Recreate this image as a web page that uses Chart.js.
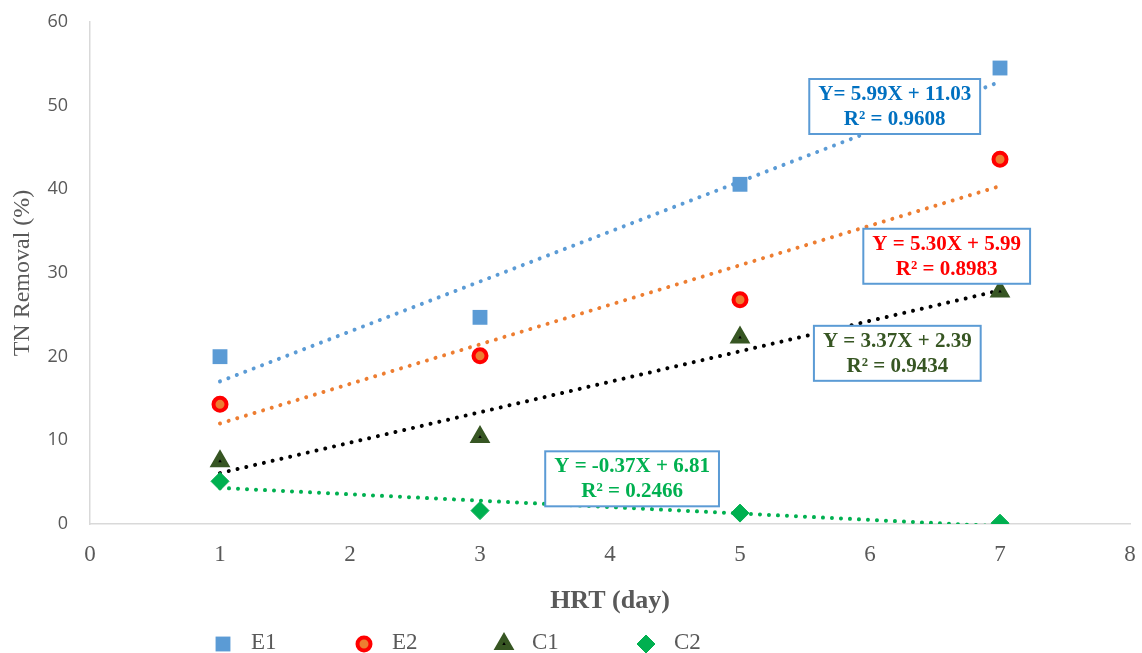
<!DOCTYPE html>
<html>
<head>
<meta charset="utf-8">
<title>TN Removal vs HRT</title>
<script src="https://cdn.jsdelivr.net/npm/chart.js@4.4.1/dist/chart.umd.min.js"></script>
<style>
    html, body { margin: 0; padding: 0; background: #ffffff; }
    .chart-wrap { position: relative; width: 1142px; height: 653px; }
</style>
</head>
<body>
<div class="chart-wrap"><canvas id="tnChart"></canvas></div>
<script>
// HRT (day) on the x axis
const hrtDays = [1, 3, 5, 7];

// TN removal (%) per reactor
const e1Removal = [20.0, 24.7, 40.6, 54.5];
const e2Removal = [14.3, 20.1, 26.8, 43.6];
const c1Removal = [7.5, 10.4, 22.3, 27.8];
const c2Removal = [5.1, 1.6, 1.3, 0.1];

const seriesNames = ['E1', 'E2', 'C1', 'C2'];

// trendline equation labels as printed in the figure
const eqTexts = ['Y= 5.99X + 11.03', 'Y = 5.30X + 5.99', 'Y = 3.37X + 2.39', 'Y = -0.37X + 6.81'];
const r2Texts = ['R\u00b2 = 0.9608', 'R\u00b2 = 0.8983', 'R\u00b2 = 0.9434', 'R\u00b2 = 0.2466'];

const xTicks = [0, 1, 2, 3, 4, 5, 6, 7, 8];
const yTicks = [0, 10, 20, 30, 40, 50, 60];

const GREY = '#595959';
const SERIF = '"Liberation Serif", "Times New Roman", serif';

// least squares line, like the spreadsheet trendline
function linearFit(xs, ys) {
    const n = xs.length;
    const mx = xs.reduce((a, b) => a + b, 0) / n;
    const my = ys.reduce((a, b) => a + b, 0) / n;
    let sxy = 0, sxx = 0;
    for (let i = 0; i < n; i++) {
        sxy += (xs[i] - mx) * (ys[i] - my);
        sxx += (xs[i] - mx) * (xs[i] - mx);
    }
    const slope = sxy / sxx;
    return { slope: slope, intercept: my - slope * mx };
}

function toPoints(ys) {
    return hrtDays.map((x, i) => ({ x: x, y: ys[i] }));
}

function trendPoints(ys) {
    const fit = linearFit(hrtDays, ys);
    const first = hrtDays[0];
    const last = hrtDays[hrtDays.length - 1];
    return [
        { x: first, y: fit.slope * first + fit.intercept },
        { x: last, y: fit.slope * last + fit.intercept }
    ];
}

const markerStyles = [
    { pointStyle: 'rect', radius: 10.5, bg: '#5B9BD5', border: '#5B9BD5', bw: 0 },
    { pointStyle: 'circle', radius: 6.5, bg: '#ED7D31', border: '#FF0000', bw: 4 },
    { pointStyle: 'triangle', radius: 7, bg: '#000000', border: '#375623', bw: 5 },
    { pointStyle: 'rectRot', radius: 9, bg: '#00B050', border: '#00B050', bw: 1 }
];
const trendColors = ['#5B9BD5', '#ED7D31', '#000000', '#00B050'];
const labelColors = ['#0070C0', '#FF0000', '#375623', '#00B050'];

const allSeries = [e1Removal, e2Removal, c1Removal, c2Removal];

const datasets = [];
allSeries.forEach((ys, i) => {
    const m = markerStyles[i];
    datasets.push({
        type: 'scatter',
        label: seriesNames[i],
        data: toPoints(ys),
        pointStyle: m.pointStyle,
        pointRadius: m.radius,
        pointHoverRadius: m.radius,
        backgroundColor: m.bg,
        borderColor: m.border,
        pointBorderWidth: m.bw,
        order: 1
    });
});
allSeries.forEach((ys, i) => {
    datasets.push({
        type: 'line',
        label: seriesNames[i] + ' trend',
        data: trendPoints(ys),
        borderColor: trendColors[i],
        borderWidth: 4,
        borderDash: [0.01, 9],
        borderCapStyle: 'round',
        pointRadius: 0,
        fill: false,
        order: 2
    });
});

// boxed equation labels
const equationBoxes = {
    id: 'equationBoxes',
    afterDatasetsDraw(chart, args, opts) {
        const ctx = chart.ctx;
        const xs = chart.scales.x;
        const ys = chart.scales.y;
        ctx.save();
        ctx.font = 'bold 21px ' + SERIF;
        ctx.textAlign = 'center';
        ctx.textBaseline = 'middle';
        opts.anchors.forEach((a, i) => {
            const cx = xs.getPixelForValue(a.x);
            const cy = ys.getPixelForValue(a.y);
            const w = Math.max(ctx.measureText(eqTexts[i]).width, ctx.measureText(r2Texts[i]).width) + 18;
            const h = 55;
            ctx.fillStyle = '#ffffff';
            ctx.fillRect(cx - w / 2, cy - h / 2, w, h);
            ctx.strokeStyle = '#5B9BD5';
            ctx.lineWidth = 2;
            ctx.strokeRect(cx - w / 2, cy - h / 2, w, h);
            ctx.fillStyle = labelColors[i];
            ctx.fillText(eqTexts[i], cx, cy - 12);
            ctx.fillText(r2Texts[i], cx, cy + 13);
        });
        ctx.restore();
    }
};

// legend row under the axis title
const bottomLegend = {
    id: 'bottomLegend',
    afterDraw(chart, args, opts) {
        const ctx = chart.ctx;
        ctx.save();
        ctx.font = '23px ' + SERIF;
        ctx.textBaseline = 'middle';
        ctx.textAlign = 'left';
        seriesNames.forEach((name, i) => {
            const m = markerStyles[i];
            const x = opts.x[i];
            const y = opts.y;
            ctx.fillStyle = m.bg;
            ctx.strokeStyle = m.border;
            ctx.lineWidth = m.bw;
            Chart.helpers.drawPoint(ctx, {
                pointStyle: m.pointStyle,
                radius: m.radius,
                rotation: 0,
                borderWidth: m.bw
            }, x, y);
            ctx.fillStyle = GREY;
            ctx.fillText(name, x + 28, y - 1);
        });
        ctx.restore();
    }
};

const ctx = document.getElementById('tnChart').getContext('2d');

const tnChart = new Chart(ctx, {
    data: { datasets: datasets },
    plugins: [equationBoxes, bottomLegend],
    options: {
        responsive: true,
        maintainAspectRatio: false,
        animation: false,
        layout: {
            padding: { top: 22, right: 0, bottom: 35, left: 0 }
        },
        plugins: {
            legend: { display: false },
            tooltip: { enabled: false },
            equationBoxes: {
                anchors: [
                    { x: 6.19, y: 49.9 },
                    { x: 6.59, y: 32.0 },
                    { x: 6.21, y: 20.4 },
                    { x: 4.17, y: 5.4 }
                ]
            },
            bottomLegend: {
                x: [223, 364, 504, 646],
                y: 644
            }
        },
        scales: {
            x: {
                type: 'linear',
                min: xTicks[0],
                max: xTicks[xTicks.length - 1],
                afterBuildTicks: function(scale) {
                    scale.ticks = xTicks.map(v => ({ value: v }));
                },
                grid: { display: false },
                border: { display: true, color: '#D9D9D9', width: 1.5 },
                ticks: {
                    color: GREY,
                    padding: 0,
                    // tall line box pushes the labels down without widening the side padding
                    font: { family: SERIF, size: 23, lineHeight: 2.0 }
                },
                title: {
                    display: true,
                    text: 'HRT (day)',
                    color: GREY,
                    padding: { top: 0, bottom: 1 },
                    font: { family: SERIF, size: 26, weight: 'bold' }
                },
                afterFit: function(scale) {
                    scale.height = 94;
                }
            },
            y: {
                type: 'linear',
                min: yTicks[0],
                max: yTicks[yTicks.length - 1],
                afterBuildTicks: function(scale) {
                    scale.ticks = yTicks.map(v => ({ value: v }));
                },
                grid: { display: false },
                border: { display: true, color: '#D9D9D9', width: 1.5 },
                ticks: {
                    color: GREY,
                    padding: 14,
                    font: { family: '"Open Sans", sans-serif', size: 18 }
                },
                title: {
                    display: true,
                    text: 'TN Removal (%)',
                    color: GREY,
                    padding: 8,
                    font: { family: SERIF, size: 24 }
                },
                afterFit: function(scale) {
                    scale.width = 90;
                    scale.paddingTop = 0;
                    scale.paddingBottom = 0;
                }
            }
        }
    }
});
</script>
</body>
</html>
